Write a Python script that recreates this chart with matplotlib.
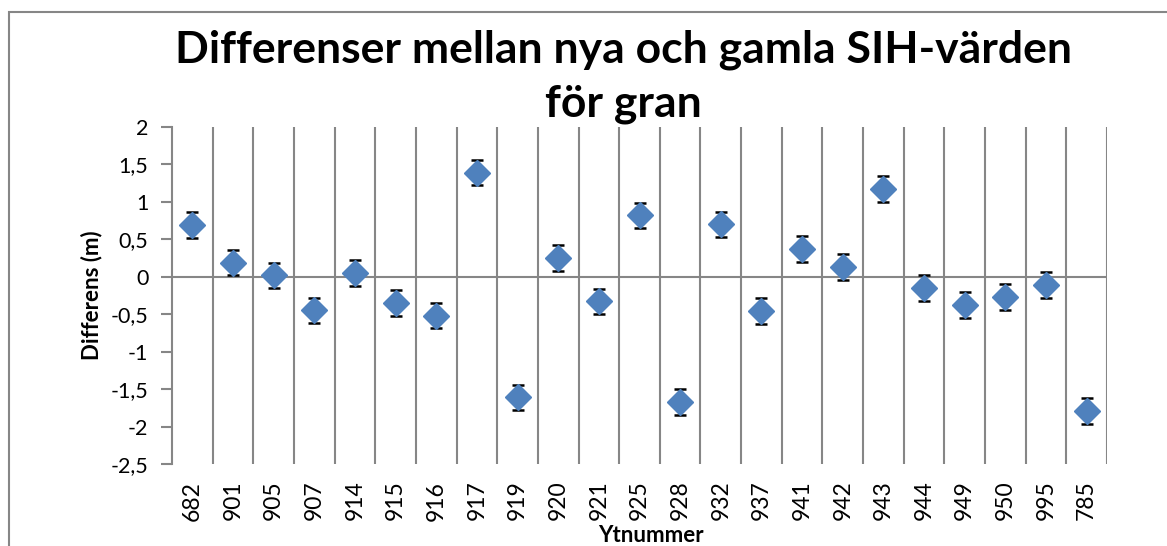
import matplotlib
matplotlib.use("Agg")
import matplotlib.pyplot as plt
from matplotlib.patches import Rectangle
from matplotlib.ticker import FuncFormatter

plt.rcParams['font.family'] = ['Lato', 'DejaVu Sans']

# Differences between new and old SIH values per plot
ytnummer = ["682", "901", "905", "907", "914", "915", "916", "917", "919", "920",
            "921", "925", "928", "932", "937", "941", "942", "943", "944", "949",
            "950", "995", "785"]
differens = [0.69, 0.19, 0.02, -0.45, 0.05, -0.35, -0.52, 1.39, -1.61, 0.25,
             -0.33, 0.82, -1.67, 0.70, -0.46, 0.37, 0.13, 1.17, -0.15, -0.38,
             -0.27, -0.11, -1.79]
fel = [0.17] * len(differens)

GRID = "#868686"

fig = plt.figure(figsize=(11.67, 5.46), dpi=100)
ax = fig.add_axes([0.1474, 0.1502, 0.8012, 0.6172])

x = list(range(len(ytnummer)))
ax.errorbar(x, differens, yerr=fel, fmt="none", ecolor="black",
            elinewidth=1.5, capsize=4.5, capthick=1.8, zorder=3)
ax.plot(x, differens, "D", color="#4F81BD", ms=13, mec="#4F81BD", zorder=4,
        linestyle="none")

ax.set_xlim(-0.5, len(ytnummer) - 0.5)
ax.set_ylim(-2.5, 2)
ax.set_yticks([2, 1.5, 1, 0.5, 0, -0.5, -1, -1.5, -2, -2.5])
ax.yaxis.set_major_formatter(FuncFormatter(
    lambda v, p: (f"{v:g}").replace(".", ",")))

# category boundary gridlines and zero line
for k in range(len(ytnummer)):
    ax.axvline(k + 0.5, color=GRID, lw=1.5, zorder=1)
ax.axhline(0, color=GRID, lw=1.5, zorder=2)

for s in ["top", "right", "bottom"]:
    ax.spines[s].set_visible(False)
ax.spines["left"].set_color(GRID)
ax.spines["left"].set_linewidth(1.5)
ax.tick_params(axis="y", direction="out", length=8, width=1.5, color=GRID,
               labelsize=15.5, pad=9)
ax.set_xticks(x)
ax.set_xticklabels(ytnummer, rotation=90, fontsize=16.5)
ax.tick_params(axis="x", length=0, pad=12)

ax.set_ylabel("Differens (m)", fontsize=16, fontweight="bold", labelpad=6)
fig.text(0.5575, 10 / 546, "Ytnummer", ha="center", va="center",
         fontsize=16, fontweight="bold")

fig.text(0.534, 1 - 50 / 546, "Differenser mellan nya och gamla SIH-värden",
         ha="center", va="center", fontsize=32, fontweight="bold")
fig.text(0.534, 1 - 104 / 546, "för gran", ha="center", va="center",
         fontsize=32, fontweight="bold")

# chart border
fig.patches.append(Rectangle((9 / 1167, -0.01), 1.2, 1 - 12 / 546 + 0.01,
                             transform=fig.transFigure, fill=False,
                             edgecolor=GRID, lw=1.5))

fig.savefig("out.png", dpi=100)
